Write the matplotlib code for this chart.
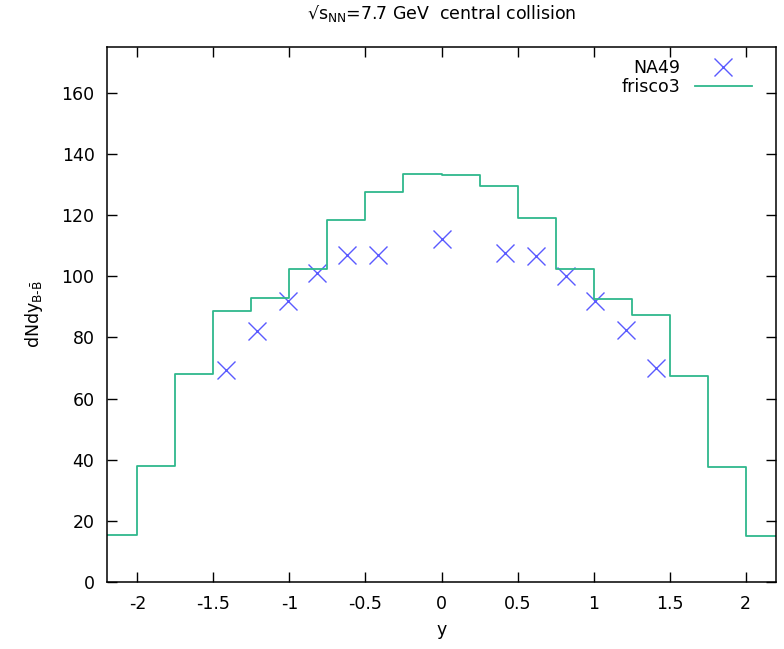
import matplotlib
matplotlib.use("Agg")
import matplotlib.pyplot as plt
import numpy as np

# frisco3 histogram (bin centres, width 0.25)
bin_centres = [-2.125, -1.875, -1.625, -1.375, -1.125, -0.875, -0.625, -0.375, -0.125,
               0.125, 0.375, 0.625, 0.875, 1.125, 1.375, 1.625, 1.875, 2.125]
frisco3 = [15.5, 38.0, 68.0, 88.5, 93.0, 102.5, 118.5, 127.5, 133.3,
           133.0, 129.5, 119.0, 102.5, 92.5, 87.5, 67.5, 37.5, 15.0]

# NA49 data points
na49_y = [-1.415, -1.215, -1.01, -0.82, -0.62, -0.42, 0.0,
          0.42, 0.62, 0.82, 1.01, 1.215, 1.41]
na49_dndy = [69.5, 82.0, 92.0, 101.0, 107.0, 107.0, 112.3,
             107.5, 106.5, 100.0, 92.0, 82.5, 70.0]

xticks = [-2, -1.5, -1, -0.5, 0, 0.5, 1, 1.5, 2]
xticklabels = ['-2', '-1.5', '-1', '-0.5', '0', '0.5', '1', '1.5', '2']
yticks = [0, 20, 40, 60, 80, 100, 120, 140, 160]

plt.rcParams['font.family'] = ['DejaVu Sans']
plt.rcParams['mathtext.default'] = 'regular'
fig = plt.figure(figsize=(7.84, 6.49), dpi=100)
ax = fig.add_axes([0.1365, 0.1032, 0.8533, 0.8244])

# step edges from bin centres (histeps-like)
edges = [bin_centres[0] - 0.125] + [c + 0.125 for c in bin_centres]
vals = frisco3 + [frisco3[-1]]

ax.plot(na49_y, na49_dndy, linestyle='none', marker='x', markersize=13,
        markeredgewidth=1.0, color='#5a5aff', label='NA49')
ax.step(edges, vals, where='post', color='#2fb88c', linewidth=1.3, label='frisco3')

ax.set_xlim(-2.2, 2.2)
ax.set_ylim(0, 175)
ax.set_xticks(xticks)
ax.set_xticklabels(xticklabels)
ax.set_yticks(yticks)
ax.tick_params(direction='in', top=True, right=True, length=7, width=1,
               labelsize=12.5, pad=9)
for s in ax.spines.values():
    s.set_linewidth(1.1)

ax.set_xlabel('y', fontsize=12.5, labelpad=6)
ax.set_ylabel(r'dNdy$_{B\text{-}\bar{B}}$', fontsize=12.5, labelpad=12)
ax.set_title('\u221as$_{NN}$=7.7 GeV  central collision', fontsize=12.5, pad=20)

ax.legend(loc='upper right', bbox_to_anchor=(0.982, 1.0), frameon=False,
          markerfirst=False, fontsize=12.5, handlelength=3.3, handletextpad=0.8,
          borderaxespad=0.3, labelspacing=0.05)

fig.savefig('out.png', dpi=100)
